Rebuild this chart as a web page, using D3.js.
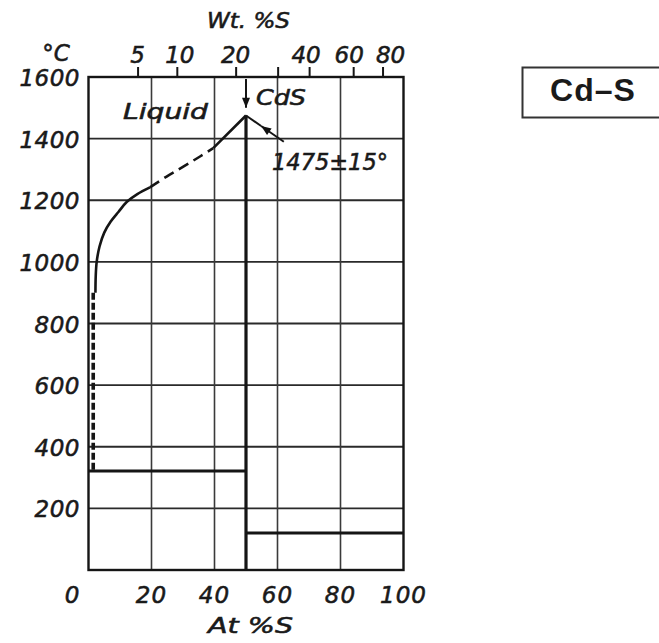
<!DOCTYPE html>
<html><head><meta charset="utf-8">
<script src="https://cdn.jsdelivr.net/npm/d3@7"></script>
<style>
html,body{margin:0;padding:0;background:#fff;}
svg{display:block;}
text.lt{font-family:"DejaVu Sans",sans-serif;font-style:italic;fill:#1a1a1a;stroke:#1a1a1a;stroke-width:0.55px;}
</style></head>
<body>
<script>
// ---- data ----
const atTicks = [0, 20, 40, 60, 80, 100];
const atLabels = ["0", "20", "40", "60", "80", "100"];
const tempTicks = [200, 400, 600, 800, 1000, 1200, 1400, 1600];
const tempLabels = ["200", "400", "600", "800", "1000", "1200", "1400", "1600"];
const wtTicks = [5, 10, 20, 30, 40, 60, 80];
const wtLabels = ["5", "10", "20", "", "40", "60", "80"];
const liquidusSolidLow = [[2.2, 900], [2.3, 955], [2.6, 1000], [3.5, 1050], [5, 1095], [7, 1130], [9.5, 1162], [12.2, 1195], [15.5, 1220], [19.5, 1242]];
const liquidusDashed = [[19.5, 1242], [24.8, 1277], [30.1, 1309], [35.4, 1342], [39.6, 1369]];
const liquidusSolidHigh = [[39.6, 1369], [50, 1475]];
const liquidusDashedCd = [[1.5, 900], [1.5, 321]];
const eutecticCd = [[0, 321], [50, 321]];
const eutecticS = [[50, 120], [100, 120]];
const cdsCompound = [[50, 0], [50, 1475]];
const cdsMelting = [50, 1475];
const meltLabelAnchor = [62, 1390];
const meltLabel = "1475±15°";
const systemName = "Cd–S";
const AW_Cd = 112.41, AW_S = 32.06;

// ---- layout ----
const W = 659, H = 643;
const svg = d3.select("body").append("svg").attr("width", W).attr("height", H);
const x = d3.scaleLinear().domain([0, 100]).range([88.5, 403.5]);
const y = d3.scaleLinear().domain([0, 1600]).range([570, 77]);
const wtToAt = w => { const s = w / AW_S, c = (100 - w) / AW_Cd; return 100 * s / (s + c); };
const topNudge = w => (w === 60 ? -4 : w === 80 ? 8 : w === 10 ? 3 : w === 40 ? -3 : 0);

const defs = svg.append("defs");
defs.append("marker").attr("id", "ah").attr("viewBox", "0 0 10 8")
  .attr("refX", 10).attr("refY", 4).attr("markerWidth", 12).attr("markerHeight", 8)
  .attr("markerUnits", "userSpaceOnUse").attr("orient", "auto")
  .append("path").attr("d", "M0,0 L10,4 L0,8 Z").attr("fill", "#111");

const ink = "#151515";
// grid
const g = svg.append("g");
g.selectAll(".hg").data(tempTicks.filter(t => t < 1600)).join("line")
  .attr("x1", x(0)).attr("x2", x(100)).attr("y1", d => y(d)).attr("y2", d => y(d))
  .attr("stroke", "#2a2a2a").attr("stroke-width", 1.8);
g.selectAll(".vg").data(atTicks.filter(t => t > 0 && t < 100)).join("line")
  .attr("y1", y(0)).attr("y2", y(1600)).attr("x1", d => x(d)).attr("x2", d => x(d))
  .attr("stroke", "#3a3a3a").attr("stroke-width", 1.6);
// frame
svg.append("rect").attr("x", x(0)).attr("y", y(1600)).attr("width", x(100) - x(0)).attr("height", y(0) - y(1600))
  .attr("fill", "none").attr("stroke", ink).attr("stroke-width", 2.4);

// top axis (wt%)
const topAx = d3.axisTop(x).tickValues(wtTicks.map(wtToAt)).tickSize(10).tickFormat("");
const ta = svg.append("g").attr("transform", `translate(0,${y(1600)})`).call(topAx);
ta.select(".domain").remove();
ta.selectAll(".tick line").attr("stroke", ink).attr("stroke-width", 2);
svg.append("g").selectAll("text").data(wtTicks).join("text").attr("class", "lt")
  .attr("x", d => x(wtToAt(d)) + topNudge(d)).attr("y", 63).attr("text-anchor", "middle")
  .attr("font-size", 23).text((d, i) => wtLabels[i]);

// left axis labels
svg.append("g").selectAll("text").data(tempTicks).join("text").attr("class", "lt")
  .attr("x", 80).attr("y", d => y(d) + 9).attr("text-anchor", "end")
  .attr("font-size", 23).attr("letter-spacing", 0.5).text((d, i) => tempLabels[i]);
// bottom axis labels
svg.append("g").selectAll("text").data(atTicks).join("text").attr("class", "lt")
  .attr("x", d => x(d) + (d === 0 ? -16 : 0)).attr("y", 603).attr("text-anchor", "middle")
  .attr("font-size", 23).attr("letter-spacing", 1).text((d, i) => atLabels[i]);

svg.append("text").attr("class", "lt").attr("x", 56).attr("y", 61).attr("text-anchor", "middle").attr("font-size", 23).text("°C");
svg.append("text").attr("class", "lt").attr("x", 207).attr("y", 28).attr("font-size", 21)
  .attr("textLength", 83).attr("lengthAdjust", "spacingAndGlyphs").text("Wt. %S");
svg.append("text").attr("class", "lt").attr("x", 208).attr("y", 633).attr("font-size", 21)
  .attr("textLength", 85).attr("lengthAdjust", "spacingAndGlyphs").text("At %S");

// phase lines
const line = d3.line().x(d => x(d[0])).y(d => y(d[1]));
const smooth = d3.line().x(d => x(d[0])).y(d => y(d[1])).curve(d3.curveCatmullRom.alpha(0.5));
svg.append("path").attr("d", smooth(liquidusSolidLow)).attr("fill", "none").attr("stroke", ink).attr("stroke-width", 2.6);
svg.append("path").attr("d", smooth(liquidusDashed)).attr("fill", "none").attr("stroke", ink).attr("stroke-width", 2.6).attr("stroke-dasharray", "11,6");
svg.append("path").attr("d", line(liquidusSolidHigh)).attr("fill", "none").attr("stroke", ink).attr("stroke-width", 2.6);
svg.append("path").attr("d", line(liquidusDashedCd)).attr("fill", "none").attr("stroke", ink).attr("stroke-width", 3.6).attr("stroke-dasharray", "7,3");
svg.append("path").attr("d", line(eutecticCd)).attr("fill", "none").attr("stroke", ink).attr("stroke-width", 3);
svg.append("path").attr("d", line(eutecticS)).attr("fill", "none").attr("stroke", ink).attr("stroke-width", 3);
svg.append("path").attr("d", line(cdsCompound)).attr("fill", "none").attr("stroke", ink).attr("stroke-width", 3.2);

// vertical arrow to CdS
svg.append("line").attr("x1", x(50)).attr("x2", x(50)).attr("y1", y(1600) + 2).attr("y2", y(1500))
  .attr("stroke", ink).attr("stroke-width", 2).attr("marker-end", "url(#ah)");
svg.append("text").attr("class", "lt").attr("x", x(50) + 10).attr("y", 105).attr("font-size", 22)
  .attr("textLength", 50).attr("lengthAdjust", "spacingAndGlyphs").text("CdS");

// melting point arrow
const p0 = [x(meltLabelAnchor[0]), y(meltLabelAnchor[1])], p1 = [x(cdsMelting[0]), y(cdsMelting[1])];
const pm = [p1[0] + (p0[0] - p1[0]) * 0.4, p1[1] + (p0[1] - p1[1]) * 0.4];
svg.append("line").attr("x1", p0[0]).attr("y1", p0[1]).attr("x2", pm[0]).attr("y2", pm[1])
  .attr("stroke", ink).attr("stroke-width", 2).attr("marker-end", "url(#ah)");
svg.append("line").attr("x1", pm[0]).attr("y1", pm[1]).attr("x2", p1[0]).attr("y2", p1[1])
  .attr("stroke", ink).attr("stroke-width", 2);
svg.append("text").attr("class", "lt").attr("x", 272).attr("y", 170).attr("font-size", 23)
  .attr("textLength", 116).attr("lengthAdjust", "spacingAndGlyphs").text(meltLabel);

svg.append("text").attr("class", "lt").attr("x", 123).attr("y", 119).attr("font-size", 21)
  .attr("textLength", 85).attr("lengthAdjust", "spacingAndGlyphs").text("Liquid");

// system box
svg.append("rect").attr("x", 522.5).attr("y", 67.5).attr("width", 150).attr("height", 50)
  .attr("fill", "none").attr("stroke", "#333").attr("stroke-width", 2);
svg.append("text").attr("x", 593).attr("y", 101).attr("text-anchor", "middle")
  .style("font-family", "'Liberation Sans', Arial, sans-serif").style("font-weight", "bold").style("fill", "#1a1a1a")
  .attr("font-size", 32).attr("letter-spacing", 1).text(systemName);
</script>
</body></html>
